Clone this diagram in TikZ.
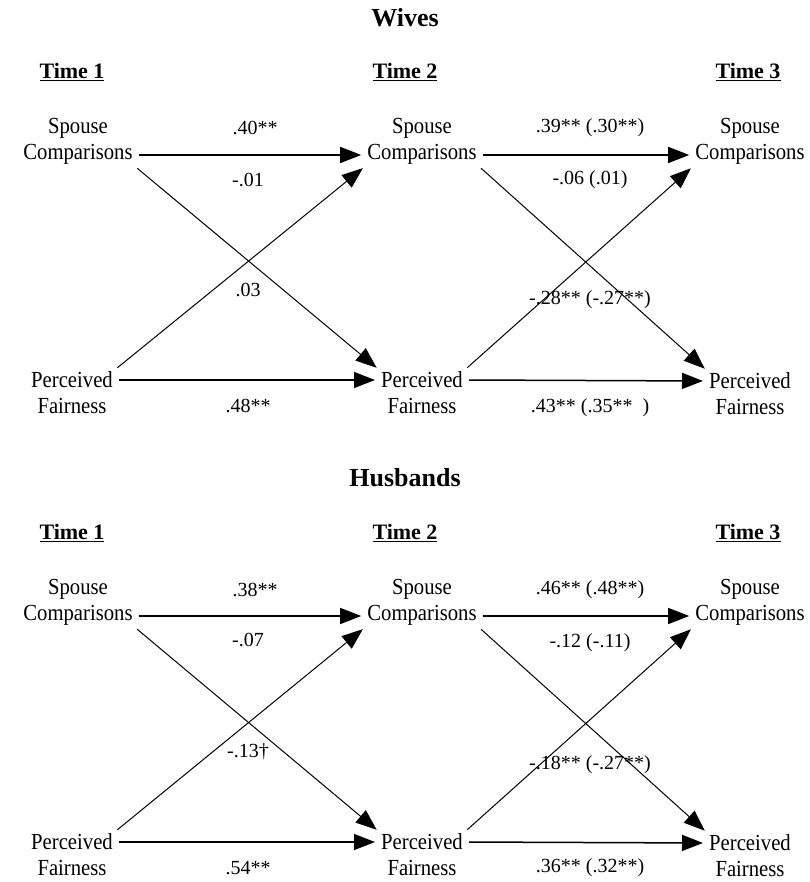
\documentclass[tikz,border=0pt]{standalone}
\usepackage{fontspec}
\setmainfont{Liberation Serif}
\newfontfamily\narrowserif{Liberation Serif}[FakeStretch=0.9]
\usetikzlibrary{arrows.meta,positioning}

\begin{document}
\begin{tikzpicture}[x=1pt,y=-1pt,
    varnode/.style = {align=center, inner sep=2pt, font=\narrowserif\fontsize{23}{26}\selectfont},
    headnode/.style = {font=\bfseries\fontsize{22}{26}\selectfont},
    titlenode/.style = {font=\bfseries\fontsize{26}{30}\selectfont},
    coef/.style = {inner sep=1pt, font=\fontsize{20}{24}\selectfont},
    flatarrow/.style = {-{Triangle[length=21pt,width=16pt]}, line width=1.5pt, shorten <=4pt, shorten >=4pt},
    crossarrow/.style = {-{Triangle[length=21pt,width=16pt]}, line width=1pt, shorten <=3pt, shorten >=3pt}]
     \useasboundingbox (0,0) rectangle (809,882);

     % Wives
     \node[titlenode] (wt) at (405,18) {Wives};
     \node[headnode] (wh1) at (72,72) {\underline{Time 1}};
     \node[headnode] (wh2) at (405,72) {\underline{Time 2}};
     \node[headnode] (wh3) at (748,72) {\underline{Time 3}};
     \node[varnode] (wsc1) at (78,141) {Spouse\\Comparisons};
     \node[varnode] (wsc2) at (422,141) {Spouse\\Comparisons};
     \node[varnode] (wsc3) at (750,141) {Spouse\\Comparisons};
     \node[varnode] (wpf1) at (72,393) {Perceived\\Fairness};
     \node[varnode] (wpf2) at (422,393) {Perceived\\Fairness};
     \node[varnode] (wpf3) at (750,394) {Perceived\\Fairness};

     \draw[flatarrow] ([yshift=-14pt]wsc1.east) -- ([yshift=-14pt]wsc2.west);
     \draw[flatarrow] ([yshift=-14pt]wsc2.east) -- ([yshift=-14pt]wsc3.west);
     \draw[flatarrow] ([yshift=13pt]wpf1.east) -- ([yshift=13pt]wpf2.west);
     \draw[flatarrow] ([yshift=13pt]wpf2.east) -- ([yshift=13pt]wpf3.west);
     \draw[crossarrow] (wsc1.south east) -- (wpf2.north west);
     \draw[crossarrow] (wpf1.north east) -- (wsc2.south west);
     \draw[crossarrow] (wsc2.south east) -- (wpf3.north west);
     \draw[crossarrow] (wpf2.north east) -- (wsc3.south west);

     \node[coef] (wc1) at (255,128) {.40**};
     \node[coef] (wc2) at (590,128) {.39** (.30**)};
     \node[coef] (wc3) at (248,180) {-.01};
     \node[coef] (wc4) at (590,180) {-.06 (.01)};
     \node[coef] (wc5) at (248,290) {.03};
     \node[coef] (wc6) at (590,300) {-.28** (-.27**)};
     \node[coef] (wc7) at (248,406) {.48**};
     \node[coef] (wc8) at (590,408) {.43** (.35**\ \ )};

     % Husbands
     \node[titlenode] (ht) at (405,478) {Husbands};
     \node[headnode] (hh1) at (72,533) {\underline{Time 1}};
     \node[headnode] (hh2) at (405,533) {\underline{Time 2}};
     \node[headnode] (hh3) at (748,533) {\underline{Time 3}};
     \node[varnode] (hsc1) at (78,602) {Spouse\\Comparisons};
     \node[varnode] (hsc2) at (422,602) {Spouse\\Comparisons};
     \node[varnode] (hsc3) at (750,602) {Spouse\\Comparisons};
     \node[varnode] (hpf1) at (72,855) {Perceived\\Fairness};
     \node[varnode] (hpf2) at (422,855) {Perceived\\Fairness};
     \node[varnode] (hpf3) at (750,856) {Perceived\\Fairness};

     \draw[flatarrow] ([yshift=-14pt]hsc1.east) -- ([yshift=-14pt]hsc2.west);
     \draw[flatarrow] ([yshift=-14pt]hsc2.east) -- ([yshift=-14pt]hsc3.west);
     \draw[flatarrow] ([yshift=13pt]hpf1.east) -- ([yshift=13pt]hpf2.west);
     \draw[flatarrow] ([yshift=13pt]hpf2.east) -- ([yshift=13pt]hpf3.west);
     \draw[crossarrow] (hsc1.south east) -- (hpf2.north west);
     \draw[crossarrow] (hpf1.north east) -- (hsc2.south west);
     \draw[crossarrow] (hsc2.south east) -- (hpf3.north west);
     \draw[crossarrow] (hpf2.north east) -- (hsc3.south west);

     \node[coef] (hc1) at (255,590) {.38**};
     \node[coef] (hc2) at (590,590) {.46** (.48**)};
     \node[coef] (hc3) at (248,640) {-.07};
     \node[coef] (hc4) at (590,643) {-.12 (-.11)};
     \node[coef] (hc5) at (248,752) {-.13\textdagger};
     \node[coef] (hc6) at (590,765) {-.18** (-.27**)};
     \node[coef] (hc7) at (248,868) {.54**};
     \node[coef] (hc8) at (590,868) {.36** (.32**)};
\end{tikzpicture}
\end{document}
